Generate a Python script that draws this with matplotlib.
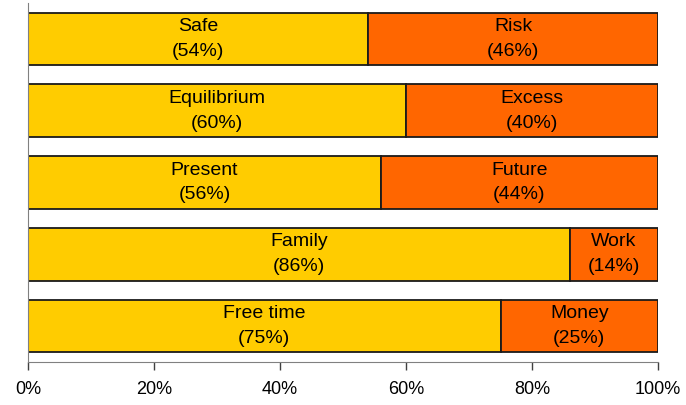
import matplotlib
matplotlib.use("Agg")
import matplotlib.pyplot as plt
import numpy as np

plt.rcParams['font.family'] = ['Liberation Sans', 'DejaVu Sans']

# data, top to bottom
left_names = ['Safe', 'Equilibrium', 'Present', 'Family', 'Free time']
right_names = ['Risk', 'Excess', 'Future', 'Work', 'Money']
left_vals = [54, 60, 56, 86, 75]
right_vals = [46, 40, 44, 14, 25]
xticks = [0, 20, 40, 60, 80, 100]
xtick_labels = ['0%', '20%', '40%', '60%', '80%', '100%']

fig = plt.figure(figsize=(6.86, 4.05), dpi=100)
ax = fig.add_axes([28/686, 43/405, 630/686, 359/405])

y = np.arange(len(left_names))[::-1]
ax.barh(y, left_vals, height=0.73, color='#FFCC00', edgecolor='#1a1a1a', linewidth=1.3)
ax.barh(y, right_vals, left=left_vals, height=0.73, color='#FF6600', edgecolor='#1a1a1a', linewidth=1.3)

for i in range(len(y)):
    lv, rv = left_vals[i], right_vals[i]
    ax.text(lv/2, y[i], left_names[i] + '\n(' + str(lv) + '%)', ha='center', va='center',
            fontsize=14, linespacing=1.6)
    ax.text(lv + rv/2, y[i], right_names[i] + '\n(' + str(rv) + '%)', ha='center', va='center',
            fontsize=14, linespacing=1.6)

ax.set_xlim(0, 100)
ax.set_ylim(-0.5, len(y) - 0.5)
ax.set_xticks(xticks)
ax.set_xticklabels(xtick_labels, fontsize=13)
ax.set_yticks([])
ax.tick_params(axis='x', direction='out', length=6, width=1, color='#404040', pad=8)
ax.spines['top'].set_visible(False)
ax.spines['right'].set_visible(False)
ax.spines['left'].set_color('#808080')
ax.spines['bottom'].set_color('#808080')

fig.savefig('out.png', dpi=100)
